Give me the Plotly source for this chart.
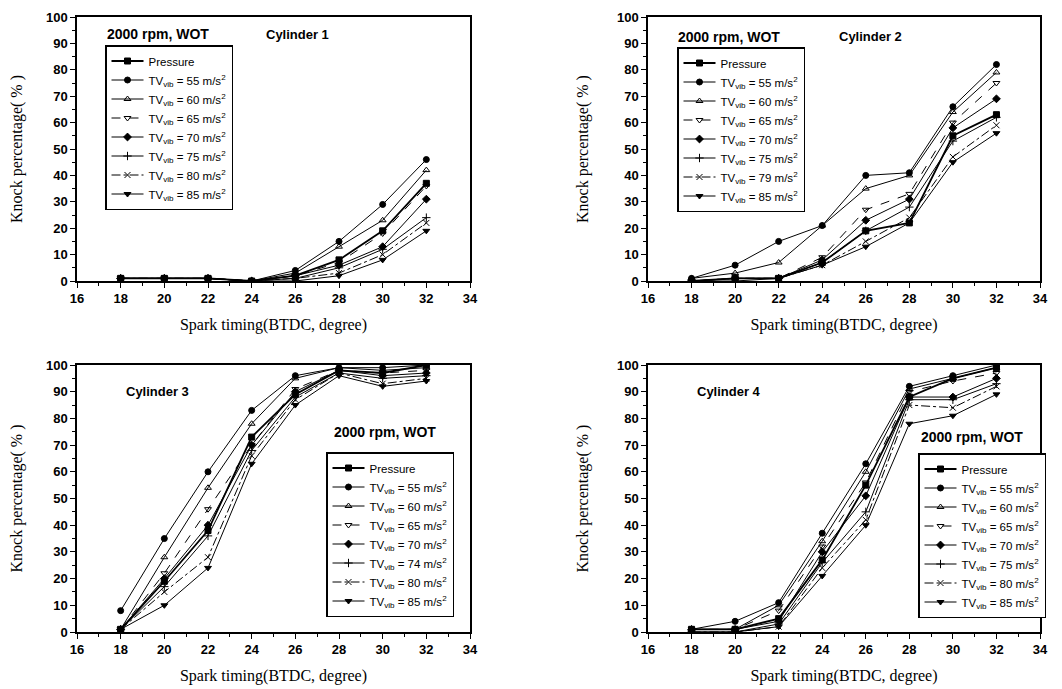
import plotly.graph_objects as go

spark = [18, 20, 22, 24, 26, 28, 30, 32]

series_names = ["Pressure", "55", "60", "65", "70", "75", "80", "85"]
cyl2_names = ["Pressure", "55", "60", "65", "70", "75", "79", "85"]
cyl3_names = ["Pressure", "55", "60", "65", "70", "74", "80", "85"]

cyl1 = {
    "Pressure": [1, 1, 1, 0, 2, 8, 19, 37],
    "55": [1, 1, 1, 0, 4, 15, 29, 46],
    "60": [1, 1, 1, 0, 3, 13, 23, 42],
    "65": [1, 1, 1, 0, 2, 7, 18, 36],
    "70": [1, 1, 1, 0, 2, 6, 13, 31],
    "75": [1, 1, 1, 0, 1, 5, 12, 24],
    "80": [1, 1, 1, 0, 1, 3, 10, 22],
    "85": [1, 1, 1, 0, 0, 2, 8, 19],
}
cyl2 = {
    "Pressure": [0, 1, 1, 7, 19, 22, 55, 63],
    "55": [1, 6, 15, 21, 40, 41, 66, 82],
    "60": [1, 3, 7, 21, 35, 40, 64, 79],
    "65": [0, 1, 1, 9, 27, 33, 60, 75],
    "70": [0, 1, 1, 8, 23, 31, 58, 69],
    "75": [0, 1, 1, 7, 19, 28, 53, 62],
    "79": [0, 1, 1, 6, 15, 24, 47, 59],
    "85": [0, 0, 1, 6, 13, 22, 45, 56],
}
cyl3 = {
    "Pressure": [1, 19, 38, 73, 89, 98, 97, 100],
    "55": [8, 35, 60, 83, 96, 99, 99, 100],
    "60": [1, 28, 54, 78, 95, 99, 98, 99],
    "65": [1, 22, 46, 70, 91, 98, 97, 98],
    "70": [1, 20, 40, 70, 90, 98, 96, 97],
    "74": [1, 17, 36, 68, 88, 97, 95, 96],
    "80": [1, 15, 28, 66, 87, 97, 93, 95],
    "85": [1, 10, 24, 63, 85, 96, 92, 94],
}
cyl4 = {
    "Pressure": [1, 1, 5, 27, 55, 88, 95, 99],
    "55": [1, 4, 11, 37, 63, 92, 96, 100],
    "60": [1, 1, 10, 34, 60, 91, 95, 99],
    "65": [1, 1, 8, 32, 56, 90, 94, 97],
    "70": [1, 1, 4, 30, 51, 88, 88, 95],
    "75": [0, 0, 3, 26, 45, 87, 87, 93],
    "80": [0, 0, 2, 24, 42, 85, 84, 92],
    "85": [0, 0, 2, 21, 40, 78, 81, 89],
}

styles = [
    dict(symbol="square", dash="solid", width=1.8),
    dict(symbol="circle", dash="solid", width=1),
    dict(symbol="triangle-up-open", dash="solid", width=1),
    dict(symbol="triangle-down-open", dash="dash", width=1),
    dict(symbol="diamond", dash="solid", width=1),
    dict(symbol="cross-thin-open", dash="solid", width=1),
    dict(symbol="x-thin-open", dash="dashdot", width=1),
    dict(symbol="triangle-down", dash="solid", width=1),
]

panels = [
    (cyl1, series_names, "x", "y", "legend"),
    (cyl2, cyl2_names, "x2", "y2", "legend2"),
    (cyl3, cyl3_names, "x3", "y3", "legend3"),
    (cyl4, series_names, "x4", "y4", "legend4"),
]

fig = go.Figure()
for data, names, xa, ya, lg in panels:
    for i, nm in enumerate(names):
        st = styles[i]
        label = "Pressure" if nm == "Pressure" else f"TV<sub>vib</sub> = {nm} m/s<sup>2</sup>"
        fig.add_trace(go.Scatter(
            x=spark, y=data[nm], mode="lines+markers", name=label,
            xaxis=xa, yaxis=ya, legend=lg,
            line=dict(color="black", width=st["width"], dash=st["dash"]),
            marker=dict(symbol=st["symbol"], size=6, color="black",
                        line=dict(color="black", width=1)),
        ))

W, H = 1062, 689
O = 8  # page offset of the plot in the browser

def px(v):
    return (v - O) / W

def py(v):
    return 1 - (v - O) / H

xd = [[px(77), px(470)], [px(648), px(1040)]]
yd_top = [py(281), py(17)]
yd_bot = [py(632), py(365)]

tickf = dict(family="Liberation Sans", size=13, color="black", weight="bold")
titlef = dict(family="Liberation Serif", size=16, color="black")

def xaxis(dom, anchor):
    return dict(domain=dom, anchor=anchor, range=[16, 34], tick0=16, dtick=2,
                showline=True, linecolor="black", linewidth=1.5, mirror=True,
                ticks="outside", ticklen=5, tickwidth=1.2, tickcolor="black",
                minor=dict(ticks="outside", ticklen=3, dtick=1, tickcolor="black"),
                showgrid=False, zeroline=False, tickfont=tickf, automargin=False,
                ticklabeloverflow="allow",
                title=dict(text="Spark timing(BTDC, degree)", font=titlef, standoff=13))

def yaxis(dom, anchor):
    return dict(domain=dom, anchor=anchor, range=[0, 100], tick0=0, dtick=10,
                showline=True, linecolor="black", linewidth=1.5, mirror=True,
                ticks="outside", ticklen=5, tickwidth=1.2, tickcolor="black",
                minor=dict(ticks="outside", ticklen=3, dtick=5, tickcolor="black"),
                showgrid=False, zeroline=False, tickfont=tickf, automargin=False,
                ticklabeloverflow="allow",
                title=dict(text="Knock percentage( % )", font=titlef, standoff=24))

legfont = dict(family="Liberation Sans", size=11.5, color="black")
legbase = dict(bgcolor="white", bordercolor="black", borderwidth=1.5, font=legfont,
               itemwidth=32, tracegroupgap=0, xanchor="left", yanchor="top")

fig.update_layout(
    width=W, height=H,
    margin=dict(l=0, r=0, t=0, b=0, autoexpand=False),
    paper_bgcolor="white", plot_bgcolor="white",
    xaxis=xaxis(xd[0], "y"), yaxis=yaxis(yd_top, "x"),
    xaxis2=xaxis(xd[1], "y2"), yaxis2=yaxis(yd_top, "x2"),
    xaxis3=xaxis(xd[0], "y3"), yaxis3=yaxis(yd_bot, "x3"),
    xaxis4=xaxis(xd[1], "y4"), yaxis4=yaxis(yd_bot, "x4"),
    legend=dict(legbase, x=px(105), y=py(45)),
    legend2=dict(legbase, x=px(677), y=py(47)),
    legend3=dict(legbase, x=px(326), y=py(452)),
    legend4=dict(legbase, x=px(918), y=py(453)),
    showlegend=True,
)

annf_rpm = dict(family="Liberation Sans", size=14, color="black", weight="bold")
annf_cyl = dict(family="Liberation Sans", size=13, color="black", weight="bold")
anns = [
    ("x", "y", 19.7, 93.5, "2000 rpm, WOT", annf_rpm),
    ("x", "y", 26.1, 93.5, "Cylinder 1", annf_cyl),
    ("x2", "y2", 19.7, 92.5, "2000 rpm, WOT", annf_rpm),
    ("x2", "y2", 26.2, 92.5, "Cylinder 2", annf_cyl),
    ("x3", "y3", 19.7, 90, "Cylinder 3", annf_cyl),
    ("x3", "y3", 30.1, 75, "2000 rpm, WOT", annf_rpm),
    ("x4", "y4", 19.7, 90, "Cylinder 4", annf_cyl),
    ("x4", "y4", 30.9, 73, "2000 rpm, WOT", annf_rpm),
]
for xr, yr, xv, yv, t, f in anns:
    fig.add_annotation(x=xv, y=yv, xref=xr, yref=yr, text=t, showarrow=False, font=f)

fig.write_html("out.html")
